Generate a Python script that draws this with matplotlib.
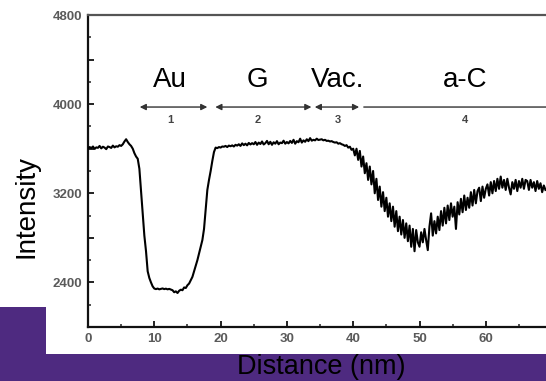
import numpy as np
import matplotlib
matplotlib.use("Agg")
import matplotlib.pyplot as plt
from matplotlib.patches import Rectangle
from matplotlib.ticker import MultipleLocator, FuncFormatter

plt.rcParams['font.family'] = ['Liberation Sans', 'DejaVu Sans']

# ---- data (intensity sampled every 0.25 nm from 0 nm) ----
step_nm = 0.25
seg_au_left = [3600, 3615, 3605, 3620, 3598, 3612, 3608, 3625, 3603, 3618, 3610, 3596,
               3620, 3615, 3607, 3628, 3612, 3622, 3618, 3632, 3625]
seg_au_drop = [3640, 3665, 3685, 3660, 3640, 3625, 3600, 3560, 3530, 3510, 3420, 3220,
               3020, 2820, 2680, 2500, 2440, 2400, 2365, 2345]
seg_au_well = [2340, 2345, 2338, 2342, 2346, 2340, 2344, 2338, 2342, 2336,
               2330, 2312, 2320, 2305, 2325, 2335, 2330, 2355, 2350, 2375,
               2390, 2420, 2450, 2500, 2550, 2600, 2660, 2720, 2780, 2880,
               3050, 3230, 3320, 3400, 3490, 3570, 3610, 3605]
seg_g = [3615, 3610, 3620, 3618, 3625, 3615, 3628, 3622, 3630, 3620, 3635, 3628, 3640,
         3625, 3648, 3632, 3645, 3630, 3652, 3638, 3650, 3640,
         3660, 3635, 3655, 3642, 3665, 3638, 3650, 3670, 3640, 3662, 3635, 3658, 3645,
         3668, 3640, 3655, 3650, 3672, 3645, 3660,
         3648, 3670, 3652, 3680, 3645, 3668, 3658, 3690, 3655, 3675, 3662, 3685, 3668,
         3695, 3672, 3680, 3675, 3690, 3678, 3682]
seg_vac = [3685, 3675, 3680, 3670, 3672, 3665, 3668, 3660, 3655, 3658, 3645, 3650,
           3640, 3635, 3625, 3632, 3610, 3618, 3590, 3600]
seg_ac = [3540, 3600, 3500, 3580, 3440, 3530, 3380, 3470,
          3320, 3440, 3280, 3400, 3200, 3330, 3140, 3260,
          3080, 3210, 3040, 3160, 2990, 3110, 2950, 3080,
          2900, 3040, 2860, 2990, 2830, 2960, 2800, 2930,
          2770, 2910, 2720, 2880, 2680, 2870, 2760, 2720,
          2850, 2760, 2880, 2780, 2690, 2900, 3020, 2820,
          2950, 2840, 2990, 2870, 3040, 2910, 3070, 2930,
          3090, 2960, 3110, 2990, 3080, 2880, 3120, 3010,
          3150, 3030, 3180, 3050, 3160, 3070, 3210, 3090,
          3230, 3110, 3220, 3250, 3130, 3260, 3160, 3240,
          3280, 3180, 3300, 3200, 3310, 3220, 3330, 3240,
          3350, 3250, 3320, 3230, 3330, 3250, 3190, 3300,
          3240, 3320, 3220, 3310, 3250, 3330, 3240, 3320,
          3310, 3230, 3320, 3250, 3300, 3220, 3310, 3240,
          3290, 3210, 3270, 3230]
intensity = np.array(seg_au_left + seg_au_drop + seg_au_well + seg_g + seg_vac + seg_ac)
distance = np.arange(len(intensity)) * step_nm

region_labels = ["Au", "G", "Vac.", "a-C"]
region_label_x = [12.4, 25.6, 37.7, 56.9]
region_numbers = ["1", "2", "3", "4"]
region_spans = [(7.8, 18.0), (19.2, 33.7), (34.2, 40.9), (41.6, 75.0)]

# ---- figure ----
W, H = 546, 381
fig = plt.figure(figsize=(W / 100, H / 100), dpi=100)
left_px, top_px, bottom_px = 88, 15, 327
ax = fig.add_axes([left_px / W, 1 - bottom_px / H, 1 - left_px / W, (bottom_px - top_px) / H])

ax.plot(distance, intensity, color='black', lw=1.5, zorder=3)
ax.set_xlim(0, (W - left_px) / 6.63)
ax.set_ylim(2000, 4800)

for s in ['left', 'bottom']:
    ax.spines[s].set_linewidth(1.6)
    ax.spines[s].set_color('#111111')
ax.spines['top'].set_linewidth(1.6)
ax.spines['top'].set_color('#555555')
ax.spines['right'].set_visible(False)

ax.xaxis.set_major_locator(MultipleLocator(10))
ax.xaxis.set_minor_locator(MultipleLocator(5))
ax.yaxis.set_major_locator(MultipleLocator(400))
ax.yaxis.set_minor_locator(MultipleLocator(200))
ax.yaxis.set_major_formatter(FuncFormatter(
    lambda v, p: f"{int(v)}" if (int(round(v)) - 2400) % 800 == 0 else ""))
ax.tick_params(which='major', direction='in', length=4, width=1.4, color='#222222',
               labelsize=9.5, labelcolor='#5a5a5a', pad=4)
ax.tick_params(which='minor', direction='in', length=2.5, width=1.1, color='#222222')
ax.tick_params(axis='x', which='both', top=False)
ax.tick_params(axis='y', which='both', right=False)
for lab in ax.get_xticklabels() + ax.get_yticklabels():
    lab.set_fontweight('bold')

# arrows, numbers, labels
arrow_y = 3974
for (x0, x1), num, lab, lx in zip(region_spans, region_numbers, region_labels, region_label_x):
    style = '<|-|>' if x1 < 70 else '<|-'
    ax.annotate('', xy=(x0, arrow_y), xytext=(x1, arrow_y),
                arrowprops=dict(arrowstyle=style, color='#333333', lw=1.0,
                                mutation_scale=9, shrinkA=0, shrinkB=0),
                annotation_clip=False)
    ax.text(lx, 3835, num, ha='center', va='baseline', fontsize=8, fontweight='bold',
            color='#444444')
    ax.text(lx, 4154, lab, ha='center', va='baseline', fontsize=20, color='black')

# purple overlays
purple = '#4E2A80'
fig.patches.append(Rectangle((0, 0), 1, 1 - 354 / H, transform=fig.transFigure,
                             facecolor=purple, edgecolor='none', zorder=5))
fig.patches.append(Rectangle((0, 0), 46 / W, 1 - 307 / H, transform=fig.transFigure,
                             facecolor=purple, edgecolor='none', zorder=5))

fig.text(321 / W, 1 - 367 / H, "Distance (nm)", ha='center', va='center', fontsize=19.5,
         color='black', zorder=6)
fig.text(27 / W, 1 - 207 / H, "Intensity", ha='center', va='center', rotation=90,
         fontsize=20, color='black')

fig.savefig("out.png", dpi=100)
